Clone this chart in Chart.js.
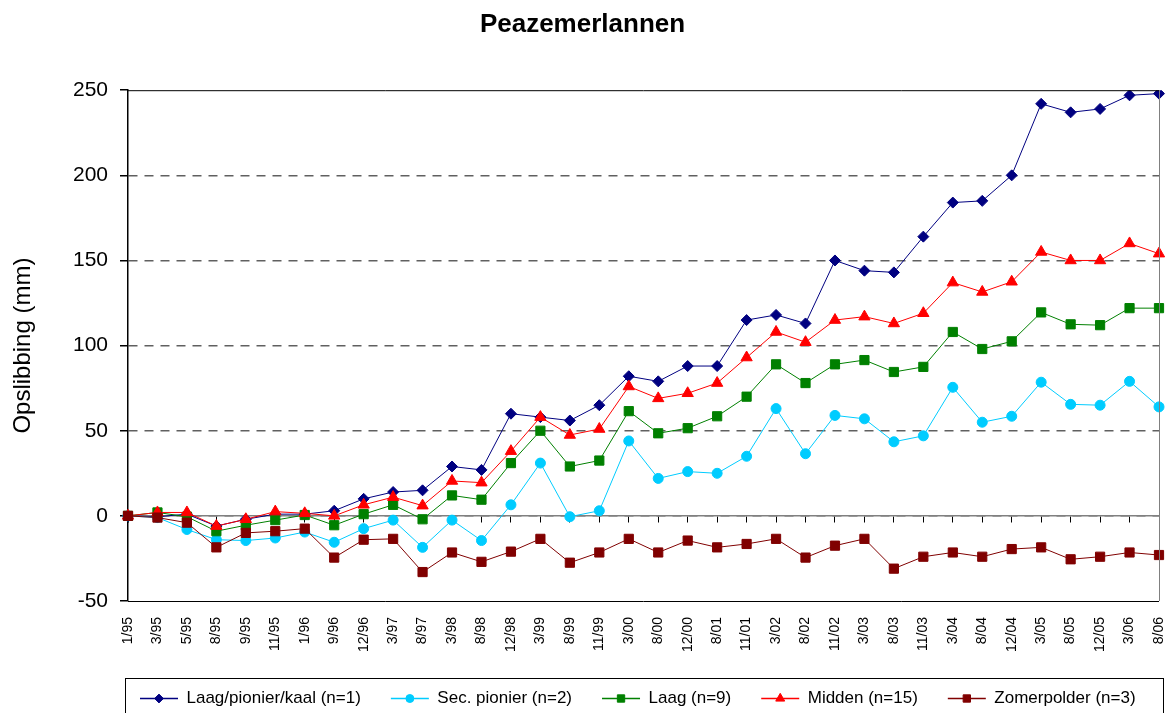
<!DOCTYPE html>
<html>
<head>
<meta charset="utf-8">
<script src="https://cdn.jsdelivr.net/npm/chart.js@4/dist/chart.umd.min.js"></script>
<style>
  body { margin: 0; background: #fff; }
  #wrap { width: 1168px; height: 713px; }
</style>
</head>
<body>
<div id="wrap"><canvas id="grafiek"></canvas></div>
<script>
var labels = ['1/95','3/95','5/95','8/95','9/95','11/95','1/96','9/96','12/96','3/97','8/97',
    '3/98','8/98','12/98','3/99','8/99','11/99','3/00','8/00','12/00','8/01','11/01','3/02',
    '8/02','11/02','3/03','8/03','11/03','3/04','8/04','12/04','3/05','8/05','12/05','3/06','8/06'];

var laagPionier = [0, -0.5, 1, -6, -2, 1, 1, 3, 10, 14, 15, 29, 27, 60, 58, 56, 65, 82, 79, 88, 88,
    115, 118, 113, 150, 144, 143, 164, 184, 185, 200, 242, 237, 239, 247, 248];
var secPionier = [0, -1, -8, -14, -14.5, -13, -9.5, -15.5, -7.5, -2.5, -18.5, -2.5, -14.5, 6.5, 31, -0.5, 3,
    44, 22, 26, 25, 35, 63, 36.5, 59, 57, 43.5, 47, 75.5, 55, 58.5, 78.5, 65.5, 65, 79, 64];
var laag = [0, 2, -0.5, -9, -5.5, -2.5, 0.5, -5.5, 1, 6.5, -2, 12, 9.5, 31, 50, 29, 32.5, 61.5, 48.5, 51.5, 58.5,
    70, 89, 78, 89, 91.5, 84.5, 87.5, 108, 98, 102.5, 119.5, 112.5, 112, 122, 122];
var midden = [0, 2, 2, -6, -2, 2.5, 1.5, 0, 6.5, 11, 6, 20.5, 19.5, 38, 58, 47.5, 51, 76, 69, 72, 78,
    93, 108, 102, 115, 117, 113, 119, 137, 131.5, 137.5, 155, 150, 150, 160, 154];
var zomerpolder = [0, -1, -4, -18.5, -10, -9, -7.5, -24.5, -14, -13.5, -33, -21.5, -27, -21, -13.5, -27.5, -21.5,
    -13.5, -21.5, -14.5, -18.5, -16.5, -13.5, -24.5, -17.5, -13.5, -31, -24, -21.5, -24, -19.5, -18.5, -25.5, -24, -21.5, -23];

var yTicks = [-50, 0, 50, 100, 150, 200, 250];

var lettertype = "'Liberation Sans', Arial, sans-serif";

function reeks(label, data, kleur, vorm, straal, volgorde) {
    return {
        label: label,
        data: data,
        borderColor: kleur,
        backgroundColor: kleur,
        borderWidth: 1,
        pointStyle: vorm,
        pointRadius: straal,
        pointHoverRadius: straal,
        pointBorderWidth: 1,
        xAxisID: 'x',
        order: volgorde,
        tension: 0
    };
}

var datasets = [
    reeks('Laag/pionier/kaal (n=1)', laagPionier, '#000080', 'rectRot', 5.5, 5),
    reeks('Sec. pionier (n=2)', secPionier, '#00CCFF', 'circle', 5, 4),
    reeks('Laag (n=9)', laag, '#008000', 'rect', 6.5, 3),
    reeks('Midden (n=15)', midden, '#FF0000', 'triangle', 6.5, 2),
    reeks('Zomerpolder (n=3)', zomerpolder, '#800000', 'rect', 6.5, 1)
];

// kader om plotgebied en legenda, plus lijntje+symbool in de legenda
var kaderPlugin = {
    id: 'kader',
    afterLayout: function (chart) {
        // legenda iets naar rechts en omlaag, zoals in het origineel
        chart.legend.left = 110;
        chart.legend.right = 1260;
        chart.legend.top += 4;
        chart.legend.bottom += 4;
    },
    afterDraw: function (chart) {
        var ctx = chart.ctx;
        var a = chart.chartArea;
        ctx.save();
        ctx.lineWidth = 1;
        ctx.strokeStyle = '#000';
        ctx.beginPath();
        ctx.moveTo(a.left, a.top + 0.5);
        ctx.lineTo(a.right, a.top + 0.5);
        ctx.moveTo(a.left, a.bottom + 0.5);
        ctx.lineTo(a.right, a.bottom + 0.5);
        ctx.stroke();
        ctx.strokeStyle = '#808080';
        ctx.beginPath();
        ctx.moveTo(a.right + 0.5, a.top);
        ctx.lineTo(a.right + 0.5, a.bottom);
        ctx.stroke();

        var lg = chart.legend;
        ctx.strokeStyle = '#000';
        ctx.strokeRect(125.5, 678.5, 1038, 50);

        var bw = lg.options.labels.boxWidth;
        lg.legendHitBoxes.forEach(function (hb, i) {
            var ds = chart.data.datasets[i];
            var cy = hb.top + hb.height / 2;
            ctx.strokeStyle = ds.borderColor;
            ctx.fillStyle = ds.backgroundColor;
            ctx.lineWidth = 1.5;
            ctx.beginPath();
            ctx.moveTo(hb.left, cy);
            ctx.lineTo(hb.left + bw, cy);
            ctx.stroke();
            ctx.lineWidth = 1;
            Chart.helpers.drawPoint(ctx, {
                pointStyle: ds.pointStyle,
                radius: ds.pointRadius * 0.8,
                rotation: 0,
                borderWidth: 1
            }, hb.left + bw / 2, cy);
        });
        ctx.restore();
    }
};

var ctx = document.getElementById('grafiek').getContext('2d');

new Chart(ctx, {
    type: 'line',
    data: { labels: labels, datasets: datasets },
    plugins: [kaderPlugin],
    options: {
        responsive: true,
        maintainAspectRatio: false,
        animation: false,
        layout: { padding: { left: 6, right: 9, top: 0, bottom: 0 } },
        plugins: {
            title: {
                display: true,
                text: 'Peazemerlannen',
                color: '#000',
                font: { family: lettertype, size: 26, weight: 'bold' },
                padding: { top: 9, bottom: 50 }
            },
            legend: {
                position: 'bottom',
                align: 'start',
                labels: {
                    boxWidth: 38,
                    boxHeight: 12,
                    padding: 30,
                    color: '#000',
                    font: { family: lettertype, size: 17 },
                    sort: function (a, b) { return a.datasetIndex - b.datasetIndex; },
                    generateLabels: function (chart) {
                        return chart.data.datasets.map(function (ds, i) {
                            return {
                                text: ds.label,
                                datasetIndex: i,
                                fillStyle: 'rgba(0,0,0,0)',
                                strokeStyle: 'rgba(0,0,0,0)',
                                lineWidth: 0,
                                fontColor: '#000',
                                hidden: false
                            };
                        });
                    }
                }
            },
            tooltip: { enabled: false }
        },
        scales: {
            x: {
                type: 'category',
                position: 'bottom',
                offset: false,
                grid: { display: false, drawTicks: false },
                border: { display: false },
                ticks: {
                    autoSkip: false,
                    minRotation: 90,
                    maxRotation: 90,
                    padding: 16,
                    color: '#000',
                    font: { family: lettertype, size: 14 }
                },
                afterFit: function (scale) {
                    scale.height = 55;
                    scale.paddingRight = 0;
                    scale.paddingLeft = 0;
                }
            },
            x0: {
                type: 'category',
                position: { y: 0 },
                offset: false,
                grid: { drawOnChartArea: false, tickLength: 6, tickColor: '#000' },
                border: { color: '#808080', width: 1.5 },
                ticks: { display: false, autoSkip: false }
            },
            y: {
                min: -50,
                max: 250,
                afterBuildTicks: function (scale) {
                    scale.ticks = yTicks.map(function (v) { return { value: v }; });
                },
                grid: {
                    color: function (c) {
                        var v = c.tick ? c.tick.value : null;
                        return (v === -50 || v === 250) ? 'rgba(0,0,0,0)' : '#606060';
                    },
                    lineWidth: 1.5,
                    tickLength: 8,
                    tickColor: '#000',
                    tickBorderDash: []
                },
                border: { color: '#000', width: 1.5, dash: [9, 7] },
                ticks: {
                    color: '#000',
                    padding: 12,
                    font: { family: lettertype, size: 21 }
                },
                title: {
                    display: true,
                    text: 'Opslibbing (mm)',
                    color: '#000',
                    font: { family: lettertype, size: 24 },
                    padding: { top: 3, bottom: 8 }
                },
                afterFit: function (scale) { scale.width = 122; }
            }
        }
    }
});
</script>
</body>
</html>
